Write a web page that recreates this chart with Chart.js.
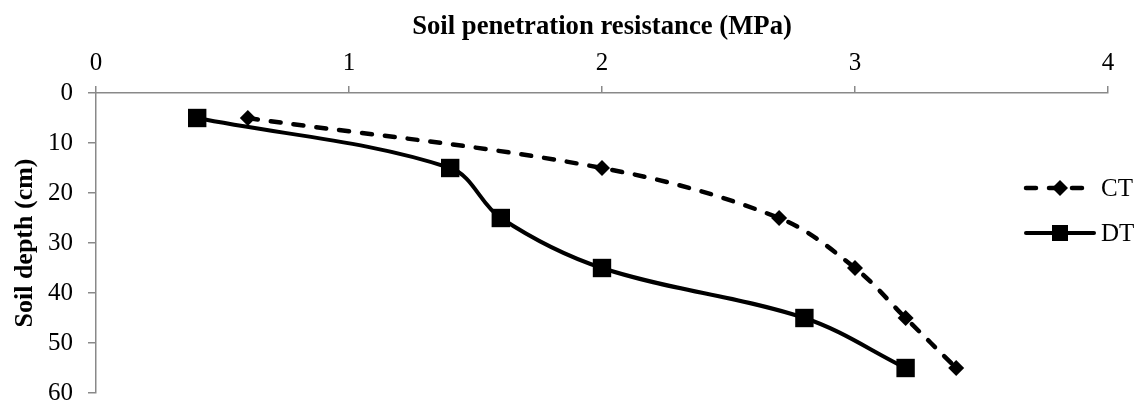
<!DOCTYPE html>
<html>
<head>
<meta charset="utf-8">
<script src="https://cdn.jsdelivr.net/npm/chart.js@4.4.1/dist/chart.umd.min.js"></script>
<style>
  html, body { margin: 0; padding: 0; background: #fff; overflow: hidden; }
  #wrap { width: 1141px; height: 403px; position: relative; overflow: hidden; }
</style>
</head>
<body>
<div id="wrap"><canvas id="myChart" width="1141" height="406"></canvas></div>
<script>
// data
const depths = [5, 15, 25, 35, 45, 55];
const ctResistance = [0.6, 2.0, 2.7, 3.0, 3.2, 3.4];
const dtResistance = [0.4, 1.4, 1.6, 2.0, 2.8, 3.2];
const xTickValues = [0, 1, 2, 3, 4];
const yTickValues = [0, 10, 20, 30, 40, 50, 60];
const seriesNames = ['CT', 'DT'];

const serif = "'Liberation Serif', 'Times New Roman', serif";
const axisGray = '#898989';

function toPoints(xs, ys) {
  return xs.map((x, i) => ({ x: x, y: ys[i] }));
}

// legend: line + marker + label, drawn on the canvas
const lineLegend = {
  id: 'lineLegend',
  afterDraw(chart) {
    const ctx = chart.ctx;
    const rows = [
      { y: 188, x0: 1026, x1: 1087 },
      { y: 233, x0: 1026, x1: 1094 }
    ];
    chart.data.datasets.forEach((ds, i) => {
      const r = rows[i];
      ctx.save();
      ctx.strokeStyle = ds.borderColor;
      ctx.lineWidth = ds.borderWidth;
      ctx.lineCap = 'round';
      ctx.setLineDash(ds.borderDash || []);
      ctx.beginPath();
      ctx.moveTo(r.x0, r.y);
      ctx.lineTo(r.x1, r.y);
      ctx.stroke();
      ctx.setLineDash([]);
      ctx.fillStyle = ds.pointBackgroundColor;
      const cx = 1060;
      if (ds.pointStyle === 'rectRot') {
        const s = ds.pointRadius;
        ctx.beginPath();
        ctx.moveTo(cx, r.y - s);
        ctx.lineTo(cx + s, r.y);
        ctx.lineTo(cx, r.y + s);
        ctx.lineTo(cx - s, r.y);
        ctx.closePath();
        ctx.fill();
      } else {
        const h = 8;
        ctx.fillRect(cx - h, r.y - h, 2 * h, 2 * h);
      }
      ctx.fillStyle = '#000';
      ctx.font = '25px ' + serif;
      ctx.textBaseline = 'middle';
      ctx.textAlign = 'left';
      ctx.fillText(ds.label, 1101, r.y + 1);
      ctx.restore();
    });
  }
};

const ctx = document.getElementById('myChart').getContext('2d');
let myChart = new Chart(ctx, {
  type: 'scatter',
  data: {
    datasets: [
      {
        label: seriesNames[0],
        data: toPoints(ctResistance, depths),
        showLine: true,
        tension: 0.35,
        borderColor: '#000',
        borderWidth: 4.5,
        borderDash: [10, 13],
        borderCapStyle: 'round',
        pointStyle: 'rectRot',
        pointRadius: 8,
        pointBackgroundColor: '#000',
        pointBorderColor: '#000',
        pointBorderWidth: 0
      },
      {
        label: seriesNames[1],
        data: toPoints(dtResistance, depths),
        showLine: true,
        tension: 0.35,
        borderColor: '#000',
        borderWidth: 4,
        pointStyle: 'rect',
        pointRadius: 13,
        pointBackgroundColor: '#000',
        pointBorderColor: '#000',
        pointBorderWidth: 0
      }
    ]
  },
  options: {
    responsive: false,
    animation: false,
    clip: false,
    layout: { padding: { left: 0, top: 0, right: 33, bottom: 10 } },
    plugins: {
      legend: { display: false },
      tooltip: { enabled: false }
    },
    scales: {
      x: {
        type: 'linear',
        position: 'top',
        min: 0,
        max: 4,
        afterBuildTicks: (scale) => { scale.ticks = xTickValues.map(v => ({ value: v })); },
        afterFit: (scale) => { scale.height = 93; scale.paddingLeft = 0; scale.paddingRight = 0; },
        grid: { display: true, drawOnChartArea: false, drawTicks: true, tickLength: 7, color: axisGray, lineWidth: 1.5 },
        border: { display: true, color: axisGray, width: 1.5 },
        ticks: { color: '#000', padding: 8, font: { family: serif, size: 25 } },
        title: {
          display: true,
          text: 'Soil penetration resistance (MPa)',
          color: '#000',
          padding: { top: 11, bottom: 0 },
          font: { family: serif, size: 26.7, weight: 'bold' }
        }
      },
      y: {
        type: 'linear',
        reverse: true,
        min: 0,
        max: 60,
        afterBuildTicks: (scale) => { scale.ticks = yTickValues.map(v => ({ value: v })); },
        afterFit: (scale) => { scale.width = 96; scale.paddingTop = 0; scale.paddingBottom = 0; },
        grid: { display: true, drawOnChartArea: false, drawTicks: true, tickLength: 8, color: axisGray, lineWidth: 1.5 },
        border: { display: true, color: axisGray, width: 1.5 },
        ticks: { color: '#000', padding: 15, font: { family: serif, size: 25, lineHeight: 0.8 } },
        title: {
          display: true,
          text: 'Soil depth (cm)',
          color: '#000',
          padding: { top: 10, bottom: 0 },
          font: { family: serif, size: 26, weight: 'bold' }
        }
      }
    }
  },
  plugins: [lineLegend]
});
</script>
</body>
</html>
